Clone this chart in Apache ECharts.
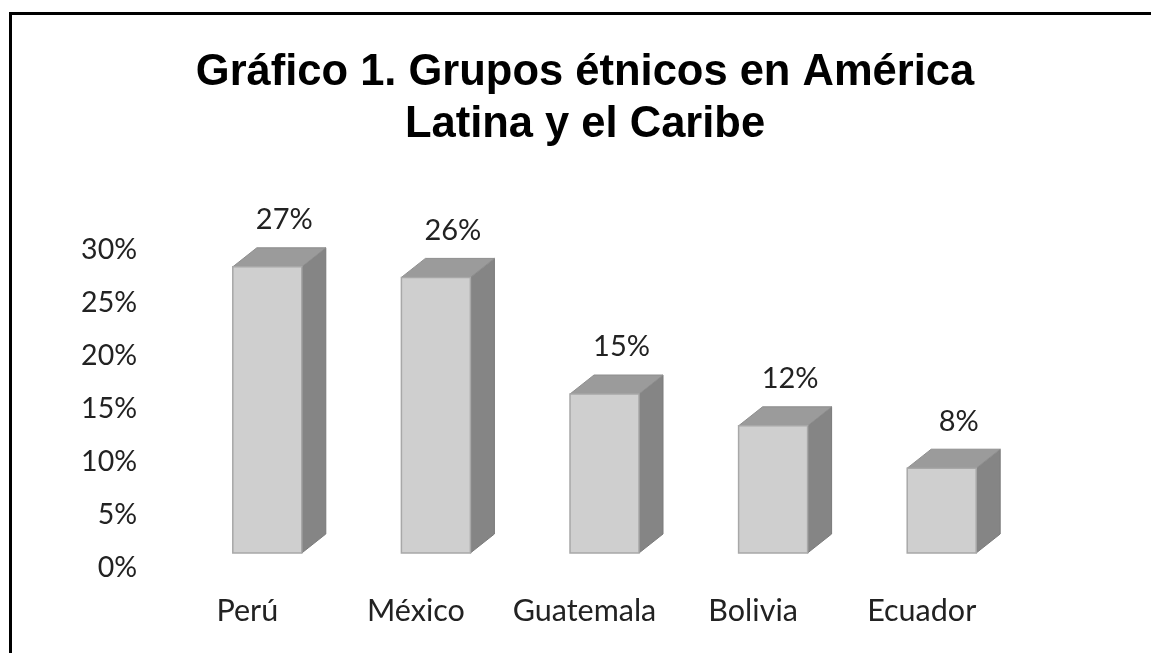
<!DOCTYPE html>
<html>
<head>
<meta charset="utf-8">
<script src="https://cdn.jsdelivr.net/npm/echarts@6/dist/echarts.min.js"></script>
<style>
  html, body { margin: 0; padding: 0; background: #fff; }
  #chart { position: absolute; left: 0; top: 0; width: 1151px; height: 653px; }
  #frame { position: absolute; left: 9px; top: 12px; right: -5px; bottom: -5px;
           border-left: 3px solid #000; border-top: 3px solid #000; pointer-events: none; }
</style>
</head>
<body>
<div id="chart"></div>
<div id="frame"></div>
<script>
const titleLines = ["Gráfico 1. Grupos étnicos en América", "Latina y el Caribe"];
const countries = ["Perú", "México", "Guatemala", "Bolivia", "Ecuador"];
const shares = [27, 26, 15, 12, 8];
const yTicks = [0, 5, 10, 15, 20, 25, 30];

const labelFont = "Lato";
const FRONT = "#cfcfcf", TOP = "#9b9b9b", SIDE = "#858585", EDGE = "#a8a8a8";

const chart = echarts.init(document.getElementById("chart"));

function renderBox(params, api) {
  const i = api.value(0);
  const v = api.value(1);
  const base = api.coord([i, 0]);
  const peak = api.coord([i, v]);
  const cx = base[0] + 20;
  const hw = 34.5, dx = 24, dy = 19, lift = 15;
  const yb = base[1] - lift;
  const yt = peak[1] - lift;
  return {
    type: "group",
    children: [
      { type: "polygon", shape: { points: [[cx + hw, yt], [cx + hw + dx, yt - dy], [cx + hw + dx, yb - dy], [cx + hw, yb]] },
        style: { fill: SIDE, stroke: "#7a7a7a", lineWidth: 1 } },
      { type: "polygon", shape: { points: [[cx - hw, yt], [cx - hw + dx, yt - dy], [cx + hw + dx, yt - dy], [cx + hw, yt]] },
        style: { fill: TOP, stroke: "#8e8e8e", lineWidth: 1 } },
      { type: "rect", shape: { x: cx - hw, y: yt, width: hw * 2, height: yb - yt },
        style: { fill: FRONT, stroke: EDGE, lineWidth: 1.5 } },
      { type: "text", x: cx + 17, y: yt - 47,
        style: { text: v + "%", font: "29px " + labelFont, fill: "#222", align: "center", verticalAlign: "middle" } }
    ]
  };
}

chart.setOption({
  animation: false,
  title: {
    text: titleLines.join("\n"),
    left: 580,
    top: 42,
    textAlign: "center",
    textStyle: { fontFamily: "Liberation Sans", fontWeight: "bold", fontSize: 43.5, lineHeight: 52, color: "#000" }
  },
  grid: { left: 163, right: 145, top: 250, bottom: 85 },
  xAxis: {
    type: "category",
    data: countries,
    axisLine: { show: false },
    axisTick: { show: false },
    axisLabel: { interval: 0, margin: 28, fontFamily: labelFont, fontSize: 30.5, color: "#222" }
  },
  yAxis: {
    type: "value",
    min: yTicks[0],
    max: yTicks[yTicks.length - 1],
    interval: 5,
    splitLine: { show: false },
    axisLine: { show: false },
    axisTick: { show: false },
    axisLabel: { margin: 26, fontFamily: labelFont, fontSize: 28.5, color: "#222", formatter: "{value}%" }
  },
  series: [{
    type: "custom",
    renderItem: renderBox,
    data: shares.map((s, i) => [i, s]),
    encode: { x: 0, y: 1 }
  }]
});
</script>
</body>
</html>
